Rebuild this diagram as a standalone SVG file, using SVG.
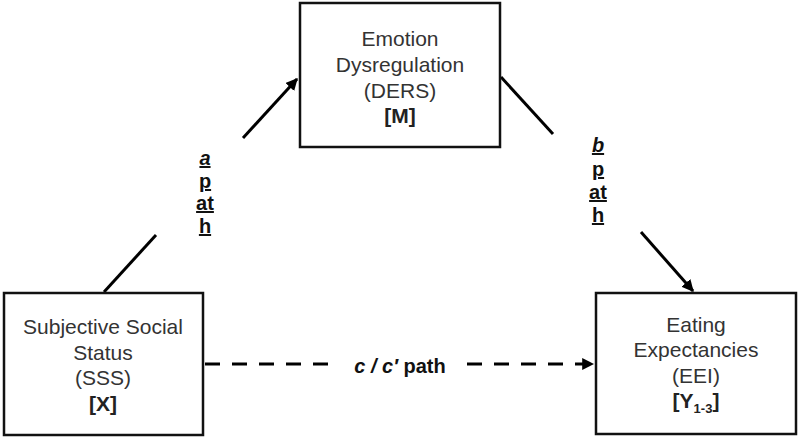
<svg xmlns="http://www.w3.org/2000/svg" width="800" height="439" viewBox="0 0 800 439">
<style>
.box{fill:#fff;stroke:#111;stroke-width:2.5}
.t{font-family:"Liberation Sans",Arial,sans-serif;font-size:21px;fill:#333;text-anchor:middle}
.b{font-weight:bold;fill:#222}
.lab{font-family:"Liberation Sans",Arial,sans-serif;font-size:20px;font-weight:bold;fill:#111;text-anchor:middle;text-decoration:underline}
.ln{stroke:#000;stroke-width:3;fill:none}
.dash{stroke:#000;stroke-width:3;fill:none;stroke-dasharray:15 12}
</style>
<defs>
<marker id="ah" viewBox="0 0 10 10" refX="9" refY="5" markerWidth="4" markerHeight="4" orient="auto" markerUnits="strokeWidth">
<path d="M0,0 L10,5 L0,10 z" fill="#000"/>
</marker>
</defs>
<rect width="800" height="439" fill="#fff"/>
<g id="connectors">
<line class="ln" x1="104" y1="292" x2="156" y2="235"/>
<line class="ln" x1="243" y1="138" x2="297" y2="79" marker-end="url(#ah)"/>
<line class="ln" x1="501" y1="77" x2="553" y2="134"/>
<line class="ln" x1="641" y1="232" x2="693" y2="291" marker-end="url(#ah)"/>
<line class="dash" x1="205" y1="364" x2="335" y2="364"/>
<line class="dash" x1="467" y1="364" x2="593" y2="364" marker-end="url(#ah)"/>
<text class="lab" x="205" y="165"><tspan font-style="italic">a</tspan></text>
<text class="lab" x="205" y="188">p</text>
<text class="lab" x="205" y="210">at</text>
<text class="lab" x="205" y="233">h</text>
<text class="lab" x="598" y="152"><tspan font-style="italic">b</tspan></text>
<text class="lab" x="598" y="176">p</text>
<text class="lab" x="598" y="199">at</text>
<text class="lab" x="598" y="222">h</text>
<text class="lab" x="400" y="373" style="text-decoration:none"><tspan font-style="italic">c / c′</tspan> path</text>
</g>
<g id="node-M">
<rect class="box" x="300" y="3" width="200" height="144"/>
<text class="t" x="400" y="46">Emotion</text>
<text class="t" x="400" y="72">Dysregulation</text>
<text class="t" x="400" y="98">(DERS)</text>
<text class="t b" x="400" y="123">[M]</text>
</g>
<g id="node-X">
<rect class="box" x="4" y="293" width="199" height="142"/>
<text class="t" x="103" y="334">Subjective Social</text>
<text class="t" x="103" y="360">Status</text>
<text class="t" x="103" y="385">(SSS)</text>
<text class="t b" x="103" y="411">[X]</text>
</g>
<g id="node-Y">
<rect class="box" x="596" y="293" width="200" height="141"/>
<text class="t" x="696" y="332">Eating</text>
<text class="t" x="696" y="357">Expectancies</text>
<text class="t" x="696" y="383">(EEI)</text>
<text class="t b" x="696" y="408">[Y<tspan font-size="13" dy="5">1-3</tspan><tspan dy="-5">]</tspan></text>
</g>
</svg>
